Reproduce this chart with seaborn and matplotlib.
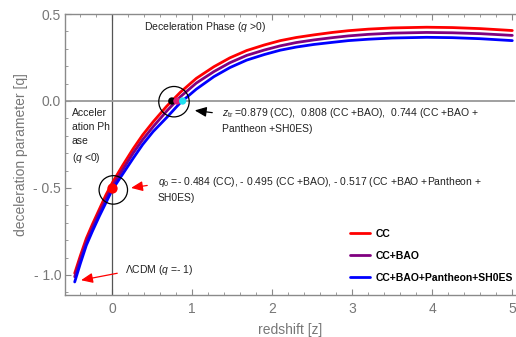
import numpy as np
import pandas as pd
import matplotlib
matplotlib.use("Agg")
import matplotlib.pyplot as plt
import seaborn as sns

# ---- data ----
z_vals = [-0.47, -0.40, -0.325, -0.25, -0.16, -0.08, 0.0, 0.13, 0.26, 0.38, 0.51, 0.68,
          0.85, 1.05, 1.27, 1.47, 1.68, 1.90, 2.10, 2.30, 2.52, 2.75, 2.95, 3.20,
          3.50, 3.93, 4.25, 4.60, 5.00]
q_cc = [-0.99, -0.89, -0.79, -0.71, -0.62, -0.54, -0.47, -0.37, -0.275, -0.195, -0.12, -0.03,
        0.050, 0.130, 0.197, 0.248, 0.290, 0.322, 0.347, 0.365, 0.380, 0.394, 0.404, 0.413,
        0.420, 0.424, 0.422, 0.416, 0.405]
q_cc_bao = [-1.01, -0.91, -0.81, -0.73, -0.64, -0.565, -0.49, -0.395, -0.30, -0.222, -0.148, -0.058,
            0.024, 0.103, 0.169, 0.220, 0.262, 0.293, 0.317, 0.336, 0.351, 0.364, 0.374, 0.383,
            0.390, 0.394, 0.392, 0.387, 0.377]
q_all = [-1.04, -0.935, -0.83, -0.75, -0.66, -0.585, -0.51, -0.42, -0.33, -0.25, -0.176, -0.095,
         -0.010, 0.068, 0.140, 0.192, 0.235, 0.267, 0.292, 0.310, 0.325, 0.337, 0.347, 0.355,
         0.362, 0.366, 0.364, 0.358, 0.347]
series_names = ["CC", "CC+BAO", "CC+BAO+Pantheon+SH0ES"]
series_colors = ["#ff0000", "#800080", "#0000ff"]

ztr_points = [0.744, 0.808, 0.879]
ztr_colors = ["black", "#dd1c77", "#1fe0f0"]
q0_point = (0.0, -0.5)

x_ticks = [0, 1, 2, 3, 4, 5]
y_ticks = [-1.0, -0.5, 0.0, 0.5]
y_ticklabels = ["- 1.0", "- 0.5", "0.0", "0.5"]

df = pd.DataFrame({
    "z": z_vals * 3,
    "q": q_cc + q_cc_bao + q_all,
    "dataset": [series_names[0]] * len(z_vals) + [series_names[1]] * len(z_vals)
               + [series_names[2]] * len(z_vals),
})

# ---- style ----
sns.set_style("white")
plt.rcParams["font.family"] = ["Liberation Sans", "DejaVu Sans"]
plt.rcParams["mathtext.fontset"] = "custom"
plt.rcParams["mathtext.rm"] = "Liberation Sans"
plt.rcParams["mathtext.it"] = "Liberation Sans:italic"
plt.rcParams["mathtext.bf"] = "Liberation Sans:bold"

fig = plt.figure(figsize=(5.16, 3.37), dpi=100)
ax = fig.add_axes([65.3 / 516, 1 - 295 / 337, (515 - 65.3) / 516, (295 - 14) / 337])

# reference lines
ax.axvline(0, color="#555555", lw=0.9, zorder=1)
ax.axhline(0, color="#999999", lw=1.3, zorder=1)

sns.lineplot(data=df, x="z", y="q", hue="dataset", palette=series_colors,
             hue_order=series_names, lw=2.0, ax=ax, estimator=None, sort=True, zorder=3)

ax.set_xlim(-0.5875, 5.034)
ax.set_ylim(-1.115, 0.5)

# markers
ax.scatter(ztr_points, [0, 0, 0], c=ztr_colors, s=28, zorder=5, linewidths=0)
ax.scatter([q0_point[0]], [q0_point[1]], c="red", s=55, zorder=5, linewidths=0)
# circles
ax.scatter([0.771], [-0.004], s=480, facecolors="none", edgecolors="black", lw=0.9, zorder=6)
ax.scatter([0.0125], [-0.511], s=420, facecolors="none", edgecolors="black", lw=0.9, zorder=6)

fs = 7.5
tc = "#222222"
ax.text(0.396, 0.425, "Deceleration Phase ($q$ >0)", fontsize=fs, color=tc, va="center", ha="left")
ax.text(-0.504, -0.04, "Acceler\nation Ph\nase\n($q$ <0)", fontsize=fs, color=tc,
        va="top", ha="left", linespacing=1.5)
ax.text(1.37, -0.03, "$z_{\\rm tr}$ =0.879 (CC),  0.808 (CC +BAO),  0.744 (CC +BAO +\nPantheon +SH0ES)",
        fontsize=fs, color=tc, va="top", ha="left", linespacing=1.45)
ax.text(0.57, -0.425, "$q_0$ =- 0.484 (CC), - 0.495 (CC +BAO), - 0.517 (CC +BAO +Pantheon +\nSH0ES)",
        fontsize=fs, color=tc, va="top", ha="left", linespacing=1.45)
ax.text(0.16, -0.971, "\u039bCDM ($q$ =- 1)", fontsize=fs, color=tc, va="center", ha="left")

# arrows
ax.annotate("", xy=(0.996, -0.052), xytext=(1.284, -0.069),
            arrowprops=dict(arrowstyle="-|>,head_length=0.7,head_width=0.3", color="black", lw=0.9))
ax.annotate("", xy=(0.20, -0.502), xytext=(0.471, -0.483),
            arrowprops=dict(arrowstyle="-|>,head_length=0.7,head_width=0.3", color="red", lw=0.9))
ax.annotate("", xy=(-0.425, -1.033), xytext=(0.096, -0.987),
            arrowprops=dict(arrowstyle="-|>,head_length=0.7,head_width=0.3", color="red", lw=0.9))

# axes styling
gray = "#8a8a8a"
for side in ["left", "bottom", "top"]:
    ax.spines[side].set_color(gray)
    ax.spines[side].set_linewidth(1.0)
ax.spines["right"].set_visible(False)

ax.set_xticks(x_ticks)
ax.set_xticks(np.arange(-0.4, 5.01, 0.2), minor=True)
ax.set_yticks(y_ticks)
ax.set_yticklabels(y_ticklabels)
ax.set_yticks(np.arange(-1.1, 0.51, 0.1), minor=True)
ax.tick_params(which="both", direction="in", color=gray, top=True, bottom=True, left=True,
               right=False, labelsize=10, labelcolor="#777777")
ax.tick_params(which="major", length=4, width=0.8)
ax.tick_params(which="minor", length=2, width=0.6)
ax.tick_params(axis="x", pad=5)
ax.tick_params(axis="y", pad=3)

ax.set_xlabel("redshift [z]", fontsize=10, color="#777777", labelpad=5)
ax.set_ylabel("deceleration parameter [q]", fontsize=10, color="#777777", labelpad=4)

leg = ax.legend(loc="upper left", bbox_to_anchor=(350 / 516, 1 - 229 / 337),
                bbox_transform=fig.transFigure, frameon=False, fontsize=fs,
                handlelength=1.9, handletextpad=0.6, labelspacing=1.15,
                borderpad=0, borderaxespad=0)
for t in leg.get_texts():
    t.set_fontweight("bold")
    t.set_color("black")
for l in leg.get_lines():
    l.set_linewidth(2.0)

fig.savefig("out.png", dpi=100)
